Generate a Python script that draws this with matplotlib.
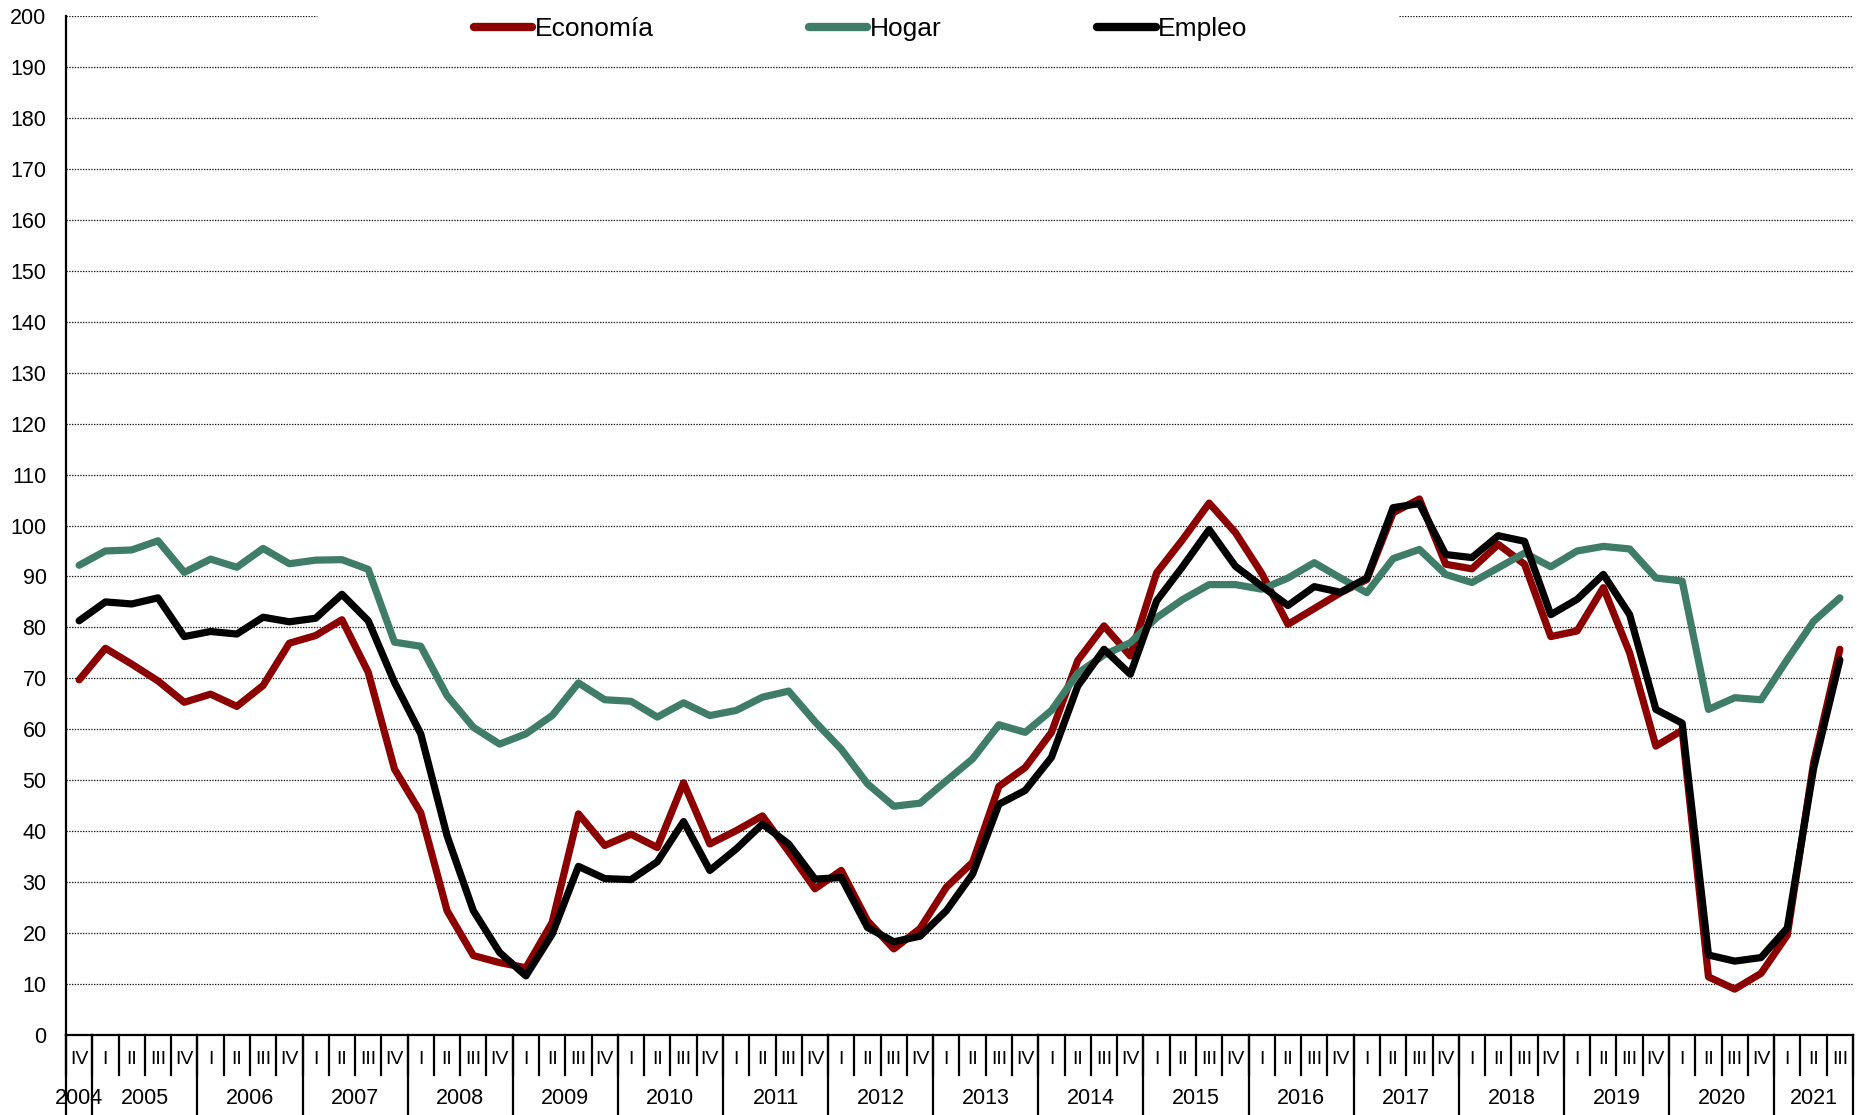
import matplotlib
matplotlib.use('Agg')
import matplotlib.pyplot as plt
import matplotlib.transforms as mtransforms

plt.rcParams['font.family'] = ['Liberation Sans', 'DejaVu Sans']

quarters = ['IV'] + ['I', 'II', 'III', 'IV'] * 16 + ['I', 'II', 'III']
years = ['2004'] + [str(y) for y in range(2005, 2021)] + ['2021']

economia = [69.7, 75.9, 72.8, 69.5, 65.3, 66.9, 64.5, 68.6, 76.9, 78.4,
            81.5, 71.2, 52.2, 43.6, 24.4, 15.6, 14.2, 13.2, 22.1, 43.4,
            37.2, 39.4, 36.8, 49.5, 37.5, 40.1, 43.0, 36.0, 28.7, 32.3,
            22.4, 16.9, 20.9, 29.0, 33.9, 48.8, 52.5, 59.4, 73.5, 80.3,
            74.4, 90.7, 97.3, 104.4, 98.6, 90.6, 80.6, 83.7, 86.8, 89.4,
            102.5, 105.2, 92.4, 91.5, 96.3, 92.4, 78.2, 79.3, 87.8, 75.0,
            56.7, 59.8, 11.4, 9.0, 12.1, 19.6, 53.4, 75.7]
hogar = [92.2, 95.0, 95.2, 97.0, 90.8, 93.4, 91.8, 95.5, 92.5, 93.2,
         93.3, 91.4, 77.1, 76.3, 66.6, 60.4, 57.1, 59.1, 62.7, 69.1,
         65.8, 65.5, 62.4, 65.2, 62.7, 63.7, 66.3, 67.5, 61.5, 56.1,
         49.3, 44.9, 45.5, 49.9, 54.2, 60.9, 59.4, 63.7, 71.0, 74.6,
         77.0, 81.9, 85.5, 88.4, 88.4, 87.5, 89.7, 92.7, 89.7, 86.8,
         93.5, 95.3, 90.4, 88.8, 91.7, 94.6, 91.9, 95.0, 95.9, 95.4,
         89.7, 89.1, 63.9, 66.2, 65.8, 73.7, 81.2, 85.8]
empleo = [81.3, 85.0, 84.6, 85.8, 78.2, 79.2, 78.7, 82.0, 81.1, 81.8,
          86.5, 81.3, 69.2, 59.1, 39.1, 24.4, 16.2, 11.6, 19.8, 33.1,
          30.7, 30.5, 34.0, 41.9, 32.3, 36.5, 41.4, 37.5, 30.6, 30.9,
          21.1, 18.3, 19.4, 24.4, 31.6, 45.3, 48.0, 54.5, 68.5, 75.7,
          70.8, 85.2, 92.0, 99.2, 92.0, 88.1, 84.3, 88.0, 86.9, 89.7,
          103.5, 104.3, 94.3, 93.7, 98.0, 96.9, 82.5, 85.5, 90.4, 82.5,
          63.9, 61.2, 15.7, 14.5, 15.2, 21.0, 52.3, 73.6]

series_names = ['Economía', 'Hogar', 'Empleo']
colors = ['#8C0000', '#407D69', '#000000']

W, H = 1859, 1115
fig = plt.figure(figsize=(W / 100, H / 100), dpi=100)
left, right, top, bottom = 66, 1853, 16, 1035
ax = fig.add_axes([left / W, 1 - bottom / H, (right - left) / W, (bottom - top) / H])

n = len(quarters)
x = list(range(n))
ax.set_xlim(-0.5, n - 0.5)
ax.set_ylim(0, 200)

# gridlines
grid_kw = dict(color='#1a1a1a', lw=0.9, ls=(0, (1.1, 1.1)), zorder=1)
for v in range(10, 200, 10):
    ax.axhline(v, **grid_kw)
ax.axhline(200, xmax=0.1405, **grid_kw)
ax.axhline(200, xmin=0.746, **grid_kw)

for name, vals, c in zip(series_names, [economia, hogar, empleo], colors):
    ax.plot(x, vals, color=c, lw=5.2, label=name, solid_joinstyle='round',
            solid_capstyle='round', zorder=3)

ax.set_yticks(range(0, 201, 10))
ax.tick_params(axis='y', length=0, pad=14, labelsize=15.5)
ax.set_xticks([])
for s in ['top', 'right']:
    ax.spines[s].set_visible(False)
ax.spines['left'].set_linewidth(1.6)
ax.spines['bottom'].set_linewidth(1.6)

trans = mtransforms.blended_transform_factory(ax.transData, ax.transAxes)
axh = bottom - top
q_len = 40 / axh
y_len = 90 / axh
q_lab = -24 / axh
y_lab = -64 / axh

# quarter separators and labels
for i in range(n + 1):
    ax.plot([i - 0.5, i - 0.5], [0, -q_len], transform=trans, color='black',
            lw=1.6, clip_on=False)
for i, q in enumerate(quarters):
    ax.text(i, q_lab, q, transform=trans, ha='center', va='center', fontsize=14)

# year groups
groups = []
start = 0
for i in range(1, n):
    if quarters[i] == 'I':
        groups.append((start, i - 1))
        start = i
groups.append((start, n - 1))
for (a, b), yr in zip(groups, years):
    ax.plot([a - 0.5, a - 0.5], [0, -y_len], transform=trans, color='black',
            lw=1.6, clip_on=False)
    ax.text((a + b) / 2, y_lab, yr, transform=trans, ha='center', va='center',
            fontsize=15.5)
ax.plot([n - 0.5, n - 0.5], [0, -y_len], transform=trans, color='black',
        lw=1.6, clip_on=False)

leg = ax.legend(loc='center left', bbox_to_anchor=(0.2283, 0.9875), ncol=3,
                frameon=False, fontsize=19, handlelength=2.2, handletextpad=0.1,
                columnspacing=5.9, borderpad=0, borderaxespad=0)
for line in leg.get_lines():
    line.set_linewidth(6)
    line.set_solid_capstyle('round')

fig.savefig('out.png', dpi=100)
